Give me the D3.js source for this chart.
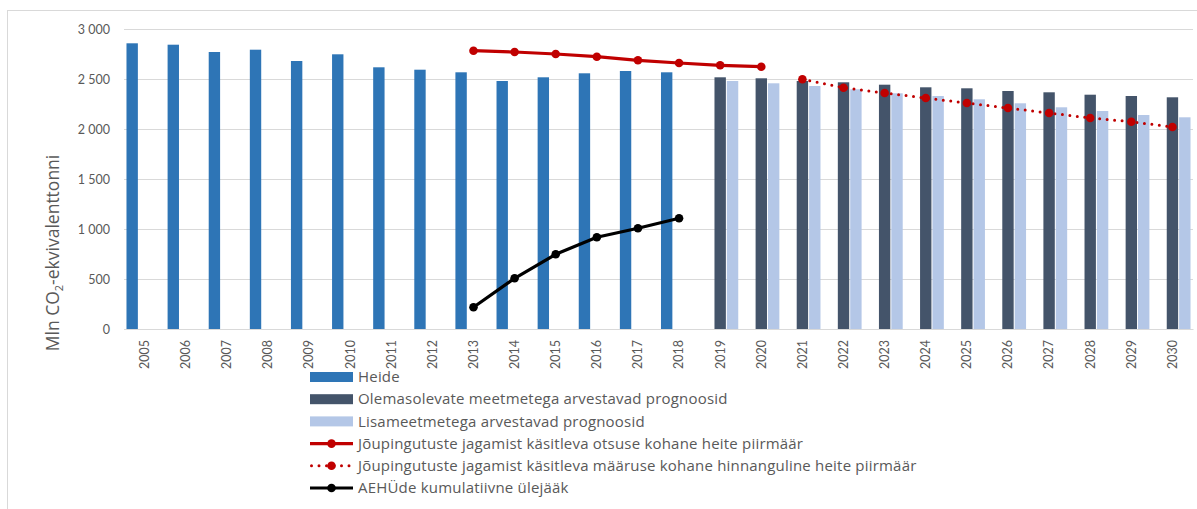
<!DOCTYPE html>
<html>
<head>
<meta charset="utf-8">
<script src="https://cdn.jsdelivr.net/npm/d3@7"></script>
<style>
  body { margin: 0; background: #fff; }
  svg text { font-family: Lato, "Open Sans", sans-serif; fill: #595959; }
  svg text.wide { font-family: "Open Sans", Lato, sans-serif; }
</style>
</head>
<body>
<div id="chart"></div>
<script>
// aastad
const years = ["2005","2006","2007","2008","2009","2010","2011","2012","2013","2014","2015","2016","2017","2018",
  "2019","2020","2021","2022","2023","2024","2025","2026","2027","2028","2029","2030"]

// tulpade väärtused (null = puudub)
const heide = [2857,2843,2770,2793,2680,2747,2617,2593,2567,2480,2517,2557,2580,2567,
  null,null,null,null,null,null,null,null,null,null,null,null]
const olemasolevad = [null,null,null,null,null,null,null,null,null,null,null,null,null,null,
  2517,2507,2480,2467,2443,2417,2407,2380,2367,2343,2330,2317]
const lisameetmed = [null,null,null,null,null,null,null,null,null,null,null,null,null,null,
  2480,2457,2430,2397,2357,2330,2297,2257,2217,2180,2140,2117]

// joonte väärtused
const otsusePiir = [null,null,null,null,null,null,null,null,2783,2770,2750,2723,2687,2660,2637,2623,
  null,null,null,null,null,null,null,null,null,null]
const maarusePiir = [null,null,null,null,null,null,null,null,null,null,null,null,null,null,null,null,
  2497,2413,2360,2310,2260,2210,2160,2110,2073,2020]
const ylejaak = [null,null,null,null,null,null,null,null,217,507,747,917,1007,1107,
  null,null,null,null,null,null,null,null,null,null,null,null]

const yTicks = [0, 500, 1000, 1500, 2000, 2500, 3000]

const barSeries = [
  {name: "Heide", values: heide, color: "#2E75B6"},
  {name: "Olemasolevate meetmetega arvestavad prognoosid", values: olemasolevad, color: "#44546A"},
  {name: "Lisameetmetega arvestavad prognoosid", values: lisameetmed, color: "#B4C7E7"}
]
const lineSeries = [
  {name: "Jõupingutuste jagamist käsitleva otsuse kohane heite piirmäär", values: otsusePiir, color: "#C00000", dotted: false},
  {name: "Jõupingutuste jagamist käsitleva määruse kohane hinnanguline heite piirmäär", values: maarusePiir, color: "#C00000", dotted: true},
  {name: "AEHÜde kumulatiivne ülejääk", values: ylejaak, color: "#000000", dotted: false}
]

const width = 1197, height = 509
const svg = d3.select("#chart").append("svg").attr("width", width).attr("height", height)

// raam
svg.append("rect").attr("x", 7.5).attr("y", 10.5).attr("width", 1260).attr("height", 600)
  .attr("fill", "none").attr("stroke", "#d9d9d9")

const plot = {left: 124, right: 1193, top: 29, bottom: 329}

const x0 = d3.scaleBand().domain(years).range([plot.left, plot.right]).padding(0)
const x1 = d3.scaleBand().domain(barSeries.map(s => s.name)).range([0, x0.bandwidth()])
  .paddingInner(0).paddingOuter(0.16)
const y = d3.scaleLinear().domain([0, 3000]).range([plot.bottom, plot.top])

// ruudujooned
svg.append("g").selectAll("line").data(yTicks).enter().append("line")
  .attr("x1", plot.left).attr("x2", plot.right)
  .attr("y1", d => Math.round(y(d)) + 0.5).attr("y2", d => Math.round(y(d)) + 0.5)
  .attr("stroke", "#d9d9d9").attr("stroke-width", 1)

// y telg
const fmt = d => d3.format(",")(d).replace(",", " ")
const yAxis = svg.append("g").attr("transform", `translate(${plot.left},0)`)
  .call(d3.axisLeft(y).tickValues(yTicks).tickSize(0).tickPadding(14).tickFormat(fmt))
yAxis.select(".domain").remove()
yAxis.selectAll("text").attr("font-size", 12.5).style("fill", "#595959")

// x telg
const xAxis = svg.append("g").attr("transform", `translate(0,${plot.bottom})`)
  .call(d3.axisBottom(x0).tickSize(0))
xAxis.select(".domain").attr("stroke", "#d9d9d9")
xAxis.selectAll("text").attr("font-size", 12.5).style("fill", "#595959")
  .attr("transform", "rotate(-90)").attr("text-anchor", "end")
  .attr("x", -11).attr("y", 0).attr("dy", "0.35em")

// tulbad
barSeries.forEach(s => {
  svg.append("g").selectAll("rect")
    .data(years.map((yr, i) => ({yr, v: s.values[i]})).filter(d => d.v != null))
    .enter().append("rect")
    .attr("x", d => x0(d.yr) + x1(s.name) + 0.5)
    .attr("width", x1.bandwidth() - 1)
    .attr("y", d => y(d.v))
    .attr("height", d => y(0) - y(d.v))
    .attr("fill", s.color)
})

// jooned
const cx = yr => x0(yr) + x0.bandwidth() / 2
lineSeries.forEach(s => {
  const pts = years.map((yr, i) => ({yr, v: s.values[i]})).filter(d => d.v != null)
  const line = d3.line().x(d => cx(d.yr)).y(d => y(d.v))
  const path = svg.append("path").datum(pts).attr("d", line)
    .attr("fill", "none").attr("stroke", s.color)
  if (s.dotted) {
    path.attr("stroke-width", 3).attr("stroke-dasharray", "0 7.5").attr("stroke-linecap", "round")
  } else {
    path.attr("stroke-width", 3.2).attr("stroke-linejoin", "round")
  }
  svg.append("g").selectAll("circle").data(pts).enter().append("circle")
    .attr("cx", d => cx(d.yr)).attr("cy", d => y(d.v)).attr("r", 4.3)
    .attr("fill", s.color)
})

// y telje pealkiri
const yt = svg.append("text").attr("class", "wide").attr("transform", "translate(59,253) rotate(-90)")
  .attr("text-anchor", "middle").attr("font-size", 17.5)
yt.append("tspan").text("Mln CO")
yt.append("tspan").text("2").attr("font-size", 11).attr("dy", 4)
yt.append("tspan").text("-ekvivalenttonni").attr("dy", -4)

// legend
const legend = svg.append("g").attr("transform", "translate(310,377)")
const items = barSeries.map(s => ({...s, type: "bar"})).concat(lineSeries.map(s => ({...s, type: "line"})))
items.forEach((it, i) => {
  const g = legend.append("g").attr("transform", `translate(0,${i * 22.2})`)
  if (it.type === "bar") {
    g.append("rect").attr("x", 0).attr("y", -5).attr("width", 43).attr("height", 10).attr("fill", it.color)
  } else {
    const l = g.append("line").attr("x1", 0).attr("x2", 43).attr("y1", 0).attr("y2", 0)
      .attr("stroke", it.color)
    if (it.dotted) l.attr("stroke-width", 3).attr("stroke-dasharray", "0 7.5").attr("stroke-linecap", "round").attr("x1", 1.5)
    else l.attr("stroke-width", 3.2)
    g.append("circle").attr("cx", 21.5).attr("cy", 0).attr("r", 4.3).attr("fill", it.color)
  }
  g.append("text").attr("class", "wide").attr("x", 48).attr("y", 0).attr("dy", "0.35em")
    .attr("font-size", 15).attr("letter-spacing", 0.2).text(it.name)
})
</script>
</body>
</html>
